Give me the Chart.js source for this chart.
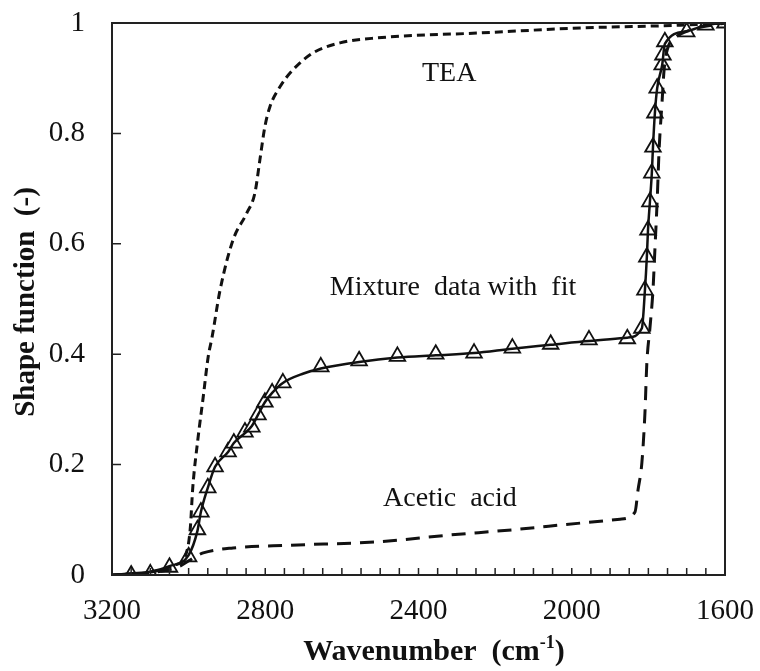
<!DOCTYPE html>
<html lang="en">
<head>
  <meta charset="UTF-8" />
  <title>Shape function vs wavenumber</title>
  <script src="https://cdn.jsdelivr.net/npm/chart.js"></script>
  <style>
    body {
      margin: 0;
      padding: 0;
      background: #ffffff;
    }
    #wrap {
      width: 760px;
      height: 671px;
    }
  </style>
</head>
<body>
  <div id="wrap">
    <canvas id="chart" width="760" height="671"></canvas>
  </div>

  <script>
    // axis ticks
    const xTicks = [3200, 2800, 2400, 2000, 1600];
    const yTicks = [0, 0.2, 0.4, 0.6, 0.8, 1];

    // mixture measurements (triangles)
    const mixX = [3150, 3100, 3050, 3000, 2977, 2968, 2950, 2931, 2897, 2882, 2853, 2835, 2819, 2801, 2782, 2754,
                  2655, 2555, 2455, 2355, 2255, 2155, 2055, 1955, 1855,
                  1817, 1809, 1804, 1801, 1796, 1791, 1788, 1783, 1777, 1764, 1762, 1757, 1700, 1650, 1600];
    const mixY = [0.0, 0.002, 0.014, 0.033, 0.082, 0.114, 0.158, 0.196, 0.223, 0.239, 0.259, 0.268, 0.29, 0.313, 0.33, 0.348,
                  0.377, 0.388, 0.396, 0.4, 0.402, 0.411, 0.418, 0.426, 0.428,
                  0.447, 0.516, 0.576, 0.625, 0.676, 0.728, 0.775, 0.837, 0.882, 0.924, 0.942, 0.966, 0.984, 0.996, 1.0];

    // fit through the mixture
    const fitX = [3200, 3150, 3100, 3050, 3000, 2977, 2968, 2950, 2931, 2897, 2882, 2853, 2835, 2819, 2801, 2782, 2754,
                  2700, 2655, 2555, 2455, 2355, 2255, 2155, 2055, 1955, 1855,
                  1817, 1809, 1804, 1801, 1796, 1791, 1788, 1783, 1777, 1764, 1757, 1700, 1650, 1600];
    const fitY = [0.0, 0.003, 0.006, 0.016, 0.036, 0.08, 0.114, 0.158, 0.196, 0.223, 0.239, 0.257, 0.27, 0.29, 0.313, 0.33, 0.348,
                  0.365, 0.374, 0.386, 0.394, 0.398, 0.402, 0.41, 0.417, 0.424, 0.43,
                  0.447, 0.516, 0.576, 0.625, 0.676, 0.728, 0.775, 0.837, 0.882, 0.924, 0.962, 0.985, 0.996, 1.0];

    // pure TEA (dashed)
    const teaX = [3200, 3101, 3036, 3009, 2996, 2989, 2976, 2962, 2949, 2939, 2918, 2884, 2848, 2827, 2814, 2801, 2788,
                  2762, 2728, 2675, 2605, 2508, 2240, 1978, 1717, 1600];
    const teaY = [0.0, 0.005, 0.018, 0.034, 0.082, 0.16, 0.245, 0.322, 0.395, 0.43, 0.516, 0.607, 0.656, 0.692, 0.752, 0.812, 0.848,
                  0.884, 0.915, 0.946, 0.964, 0.973, 0.982, 0.991, 0.996, 1.0];

    // pure acetic acid (dashed)
    const aceX = [3200, 3101, 3023, 2983, 2962, 2884, 2735, 2508, 2326, 2153, 1978, 1874, 1835, 1827, 1817, 1809, 1804,
                  1796, 1788, 1783, 1777, 1772, 1764, 1759, 1751, 1730, 1691, 1600];
    const aceY = [0.0, 0.004, 0.016, 0.033, 0.04, 0.049, 0.054, 0.06, 0.072, 0.082, 0.094, 0.101, 0.114, 0.154, 0.203, 0.293, 0.384,
                  0.447, 0.516, 0.589, 0.679, 0.77, 0.86, 0.915, 0.951, 0.973, 0.987, 1.0];

    const labels = [
      { text: 'TEA', x: 2320, y: 0.908 },
      { text: 'Mixture  data with  fit', x: 2310, y: 0.52 },
      { text: 'Acetic  acid', x: 2318, y: 0.138 }
    ];

    const serif = '"Liberation Serif", "Times New Roman", serif';

    function pts(xs, ys) {
      return xs.map((x, i) => ({ x: x, y: ys[i] }));
    }

    // frame, inward ticks, tick labels, annotations, axis titles
    const decor = {
      id: 'decor',
      afterDraw(chart) {
        const ctx = chart.ctx;
        const a = chart.chartArea;
        const xs = chart.scales.x;
        const ys = chart.scales.y;
        ctx.save();
        ctx.strokeStyle = '#222';
        ctx.lineWidth = 2;
        ctx.strokeRect(a.left, a.top, a.right - a.left, a.bottom - a.top);

        ctx.lineWidth = 1.5;
        ctx.beginPath();
        for (let v = 1600; v <= 3200; v += 50) {
          const px = xs.getPixelForValue(v);
          ctx.moveTo(px, a.bottom);
          ctx.lineTo(px, a.bottom - 7);
        }
        yTicks.forEach(v => {
          const py = ys.getPixelForValue(v);
          ctx.moveTo(a.left, py);
          ctx.lineTo(a.left + 9, py);
        });
        ctx.stroke();

        ctx.fillStyle = '#111';
        ctx.font = '29px ' + serif;
        ctx.textBaseline = 'middle';
        ctx.textAlign = 'center';
        xTicks.forEach(v => {
          ctx.fillText(String(v), xs.getPixelForValue(v), a.bottom + 36);
        });
        ctx.textAlign = 'right';
        yTicks.forEach(v => {
          ctx.fillText(String(v), a.left - 27, ys.getPixelForValue(v));
        });

        ctx.font = '28px ' + serif;
        ctx.textAlign = 'center';
        labels.forEach(l => {
          ctx.fillText(l.text, xs.getPixelForValue(l.x), ys.getPixelForValue(l.y));
        });

        // y title
        ctx.font = 'bold 29px ' + serif;
        ctx.save();
        ctx.translate(27, 302);
        ctx.rotate(-Math.PI / 2);
        ctx.fillText('Shape function  (-)', 0, 0);
        ctx.restore();

        // x title with superscript
        const main = 'Wavenumber  (cm';
        const sup = '-1';
        const end = ')';
        ctx.font = 'bold 30px ' + serif;
        const w1 = ctx.measureText(main).width;
        const w3 = ctx.measureText(end).width;
        ctx.font = 'bold 18px ' + serif;
        const w2 = ctx.measureText(sup).width;
        const x0 = 434 - (w1 + w2 + w3) / 2;
        const yb = 660;
        ctx.textAlign = 'left';
        ctx.textBaseline = 'alphabetic';
        ctx.font = 'bold 30px ' + serif;
        ctx.fillText(main, x0, yb);
        ctx.font = 'bold 18px ' + serif;
        ctx.fillText(sup, x0 + w1, yb - 12);
        ctx.font = 'bold 30px ' + serif;
        ctx.fillText(end, x0 + w1 + w2, yb);
        ctx.restore();
      }
    };

    new Chart(document.getElementById('chart'), {
      type: 'scatter',
      data: {
        datasets: [
          {
            label: 'TEA',
            data: pts(teaX, teaY),
            showLine: true,
            borderColor: '#111',
            borderWidth: 3,
            borderDash: [8, 5],
            pointRadius: 0,
            cubicInterpolationMode: 'monotone'
          },
          {
            label: 'Acetic acid',
            data: pts(aceX, aceY),
            showLine: true,
            borderColor: '#111',
            borderWidth: 3,
            borderDash: [14, 9],
            pointRadius: 0,
            cubicInterpolationMode: 'monotone'
          },
          {
            label: 'Fit',
            data: pts(fitX, fitY),
            showLine: true,
            borderColor: '#111',
            borderWidth: 2.5,
            pointRadius: 0,
            cubicInterpolationMode: 'monotone'
          },
          {
            label: 'Mixture data',
            data: pts(mixX, mixY),
            showLine: false,
            pointStyle: 'triangle',
            pointRadius: 9,
            pointBackgroundColor: '#ffffff',
            pointBorderColor: '#111',
            pointBorderWidth: 1.8
          }
        ]
      },
      options: {
        responsive: false,
        animation: false,
        layout: { padding: { top: 23, right: 35, left: 0, bottom: 0 } },
        plugins: {
          legend: { display: false },
          tooltip: { enabled: false }
        },
        scales: {
          x: {
            type: 'linear',
            reverse: true,
            min: 1600,
            max: 3200,
            afterBuildTicks: s => { s.ticks = xTicks.map(v => ({ value: v })); },
            afterFit: s => { s.height = 671 - 23 - 552; },
            ticks: { display: false },
            grid: { display: false, drawTicks: false },
            border: { display: false }
          },
          y: {
            min: 0,
            max: 1,
            afterBuildTicks: s => { s.ticks = yTicks.map(v => ({ value: v })); },
            afterFit: s => { s.width = 112; },
            ticks: { display: false },
            grid: { display: false, drawTicks: false },
            border: { display: false }
          }
        }
      },
      plugins: [decor]
    });
  </script>
</body>
</html>
